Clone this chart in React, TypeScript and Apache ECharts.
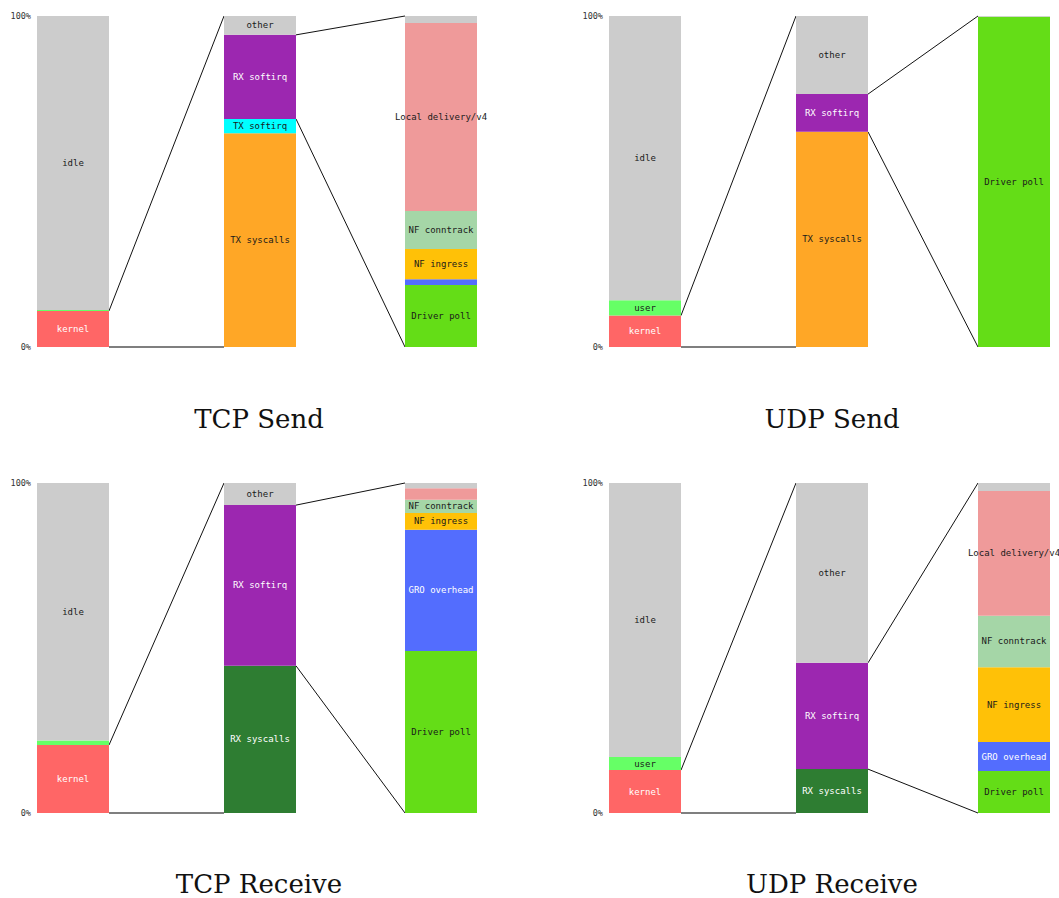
import React, { useEffect, useRef } from "react";
import * as echarts from "echarts";

// Segment names for each level of the breakdown
const CPU_PARTS = ["kernel", "user", "idle"];
const TX_KERNEL_PARTS = ["TX syscalls", "TX softirq", "RX softirq", "other"];
const RX_KERNEL_PARTS = ["RX syscalls", "RX softirq", "other"];
const SOFTIRQ_PARTS = ["Driver poll", "GRO overhead", "NF ingress", "NF conntrack", "Local delivery/v4", "other"];

// Shares in percent, bottom to top
const tcpSendCpu = [10.9, 0.3, 88.8];
const tcpSendKernel = [64.6, 4.3, 25.4, 5.7];
const tcpSendSoftirq = [18.7, 1.8, 9.1, 11.5, 56.8, 2.1];

const udpSendCpu = [9.5, 4.6, 85.9];
const udpSendKernel = [65.0, 0, 11.4, 23.6];
const udpSendSoftirq = [99.8, 0, 0, 0, 0, 0.2];

const tcpRecvCpu = [20.6, 1.4, 78.0];
const tcpRecvKernel = [44.6, 48.7, 6.7];
const tcpRecvSoftirq = [49.1, 36.7, 5.1, 4.0, 3.5, 1.6];

const udpRecvCpu = [13.0, 4.0, 83.0];
const udpRecvKernel = [13.3, 32.2, 54.5];
const udpRecvSoftirq = [12.7, 8.8, 22.7, 15.6, 37.8, 2.4];

const PANEL_TITLES = ["TCP Send", "UDP Send", "TCP Receive", "UDP Receive"];

const COLORS: Record<string, string> = {
  kernel: "#ff6666",
  user: "#66ff66",
  idle: "#cccccc",
  other: "#cccccc",
  "TX syscalls": "#ffa726",
  "TX softirq": "#00ffff",
  "RX softirq": "#9c27b0",
  "RX syscalls": "#2e7d32",
  "Driver poll": "#64dd17",
  "GRO overhead": "#536dfe",
  "NF ingress": "#ffc107",
  "NF conntrack": "#a5d6a7",
  "Local delivery/v4": "#ef9a9a",
};
const LIGHT_TEXT = new Set(["kernel", "RX softirq", "RX syscalls", "GRO overhead"]);

type Bar = { names: string[]; values: number[]; zoom: number };
type Panel = { title: string; bars: Bar[] };

const panels: Panel[] = [
  {
    title: PANEL_TITLES[0],
    bars: [
      { names: CPU_PARTS, values: tcpSendCpu, zoom: 0 },
      { names: TX_KERNEL_PARTS, values: tcpSendKernel, zoom: 2 },
      { names: SOFTIRQ_PARTS, values: tcpSendSoftirq, zoom: -1 },
    ],
  },
  {
    title: PANEL_TITLES[1],
    bars: [
      { names: CPU_PARTS, values: udpSendCpu, zoom: 0 },
      { names: TX_KERNEL_PARTS, values: udpSendKernel, zoom: 2 },
      { names: SOFTIRQ_PARTS, values: udpSendSoftirq, zoom: -1 },
    ],
  },
  {
    title: PANEL_TITLES[2],
    bars: [
      { names: CPU_PARTS, values: tcpRecvCpu, zoom: 0 },
      { names: RX_KERNEL_PARTS, values: tcpRecvKernel, zoom: 1 },
      { names: SOFTIRQ_PARTS, values: tcpRecvSoftirq, zoom: -1 },
    ],
  },
  {
    title: PANEL_TITLES[3],
    bars: [
      { names: CPU_PARTS, values: udpRecvCpu, zoom: 0 },
      { names: RX_KERNEL_PARTS, values: udpRecvKernel, zoom: 1 },
      { names: SOFTIRQ_PARTS, values: udpRecvSoftirq, zoom: -1 },
    ],
  },
];

// Layout
const BAR_W = 72;
const BAR_LEFT = [
  [37, 224, 405],
  [609, 796, 978],
];
const ROWS = [
  { top: 16, height: 331, titleY: 419 },
  { top: 483, height: 330, titleY: 884 },
];
const TITLE_X = [259, 832];
const LABEL_MIN = 3.8;
const MONO = "DejaVu Sans Mono";

export default function App() {
  const ref = useRef<HTMLDivElement>(null);

  useEffect(() => {
    if (!ref.current) return;
    const chart = echarts.init(ref.current, undefined, { renderer: "svg" });

    const grid: any[] = [];
    const xAxis: any[] = [];
    const yAxis: any[] = [];
    const series: any[] = [];

    panels.forEach((panel, p) => {
      const col = p % 2;
      const row = ROWS[Math.floor(p / 2)];
      panel.bars.forEach((bar, b) => {
        const g = grid.length;
        grid.push({ left: BAR_LEFT[col][b], top: row.top, width: BAR_W, height: row.height });
        xAxis.push({
          gridIndex: g,
          type: "category",
          data: [""],
          show: false,
        });
        yAxis.push({
          gridIndex: g,
          type: "value",
          min: 0,
          max: 100,
          interval: 100,
          axisLine: { show: false },
          axisTick: { show: false },
          splitLine: { show: false },
          axisLabel: {
            show: b === 0,
            formatter: "{value}%",
            fontFamily: MONO,
            fontSize: 8.5,
            color: "#333",
            margin: 6,
          },
        });
        bar.names.forEach((name, k) => {
          const v = bar.values[k];
          series.push({
            type: "bar",
            name: `${panel.title}-${b}-${name}`,
            xAxisIndex: g,
            yAxisIndex: g,
            stack: `s${g}`,
            barWidth: "100%",
            data: [v],
            itemStyle: { color: COLORS[name] },
            silent: true,
            label: {
              show: v >= LABEL_MIN,
              position: "inside",
              formatter: name,
              fontFamily: MONO,
              fontSize: 9,
              color: LIGHT_TEXT.has(name) ? "#ffffff" : "#1a1a1a",
            },
          });
        });
      });
    });

    chart.setOption({
      animation: false,
      backgroundColor: "#ffffff",
      grid,
      xAxis,
      yAxis,
      series,
    });

    // Zoom connectors and panel titles
    const graphic: any[] = [];
    panels.forEach((panel, p) => {
      const col = p % 2;
      const row = ROWS[Math.floor(p / 2)];
      graphic.push({
        type: "text",
        x: TITLE_X[col],
        y: row.titleY,
        style: {
          text: panel.title,
          fontFamily: "DejaVu Serif",
          fontSize: 26,
          fill: "#111",
          align: "center",
          verticalAlign: "middle",
        },
      });
      panel.bars.forEach((bar, b) => {
        if (bar.zoom < 0) return;
        const g = p * 3 + b;
        const lo = bar.values.slice(0, bar.zoom).reduce((a, c) => a + c, 0);
        const hi = lo + bar.values[bar.zoom];
        const yLo = chart.convertToPixel({ gridIndex: g }, [0, lo])[1];
        const yHi = chart.convertToPixel({ gridIndex: g }, [0, hi])[1];
        const y0 = chart.convertToPixel({ gridIndex: g + 1 }, [0, 0])[1];
        const y100 = chart.convertToPixel({ gridIndex: g + 1 }, [0, 100])[1];
        const x1 = BAR_LEFT[col][b] + BAR_W;
        const x2 = BAR_LEFT[col][b + 1];
        const flat = Math.abs(yLo - y0) < 0.5;
        graphic.push({
          type: "line",
          silent: true,
          shape: { x1, y1: yHi, x2, y2: y100 },
          style: { stroke: "#111", lineWidth: 1 },
        });
        graphic.push({
          type: "line",
          silent: true,
          shape: { x1, y1: yLo, x2, y2: y0 },
          style: { stroke: flat ? "#555" : "#111", lineWidth: flat ? 1.5 : 1 },
        });
      });
    });
    chart.setOption({ graphic });

    return () => chart.dispose();
  }, []);

  return (
    <div
      ref={ref}
      style={{ position: "absolute", left: 0, top: 0, width: 1059, height: 898 }}
    />
  );
}
